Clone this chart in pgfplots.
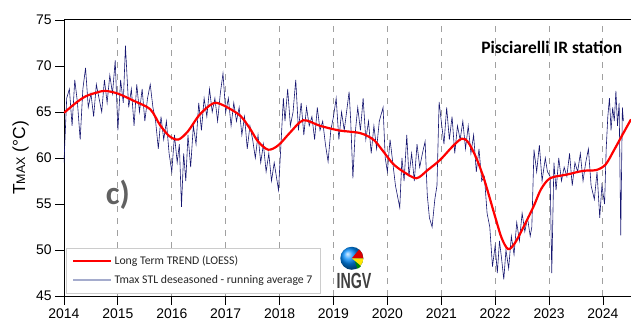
\documentclass[border=0pt]{standalone}
\usepackage{pgfplots}
\pgfplotsset{compat=1.18}
\usepackage{fontspec}
\setmainfont{Liberation Sans}
\newfontfamily\carlito{Carlito}
\definecolor{tmaxblue}{RGB}{22,22,112}
\definecolor{legblue}{RGB}{165,172,205}
\definecolor{gridgray}{RGB}{160,160,160}

\begin{document}
\begin{tikzpicture}
\begin{axis}[
    scale only axis,
    width=571.3bp, height=276bp,
    xmin=2014, xmax=2024.6,
    ymin=45, ymax=75,
    xtick={2014,2015,...,2024},
    ytick={45,50,...,75},
    /pgf/number format/1000 sep={},
    /pgf/number format/assume math mode=true,
    tick label style={font=\fontsize{14}{14}\selectfont},
    tick pos=left, tick align=outside,
    major tick length=9bp,
    tick style={black, line width=0.8pt},
    axis line style={line width=1pt},
    xmajorgrids,
    major grid style={gridgray, dash pattern=on 6bp off 6bp, line width=1pt},
    ylabel={T{\fontsize{12.5}{14}\selectfont MAX} (°C)},
    ylabel style={font=\fontsize{17.5}{18}\selectfont, at={(axis description cs:-0.076,0.5)}, anchor=center},
    legend style={at={(axis description cs:0.0035,0.011)}, anchor=south west,
        draw=gray!40, fill=white, font=\carlito\fontsize{11.8}{13}\selectfont,
        text=black!85, row sep=5bp, inner xsep=6bp, inner ysep=6bp,
        cells={anchor=west}},
    legend image code/.code={\draw[#1] (0bp,0bp) -- (38bp,0bp);},
]
% Tmax STL deseasoned, running average 7
\addplot[tmaxblue, line width=0.6pt, forget plot] coordinates {
(2014.00,59.5)(2014.05,66.5)(2014.10,67.5)(2014.15,63.5)(2014.20,68.5)(2014.25,66.0)(2014.30,62.0)(2014.35,67.5)(2014.40,69.8)(2014.45,65.5)
(2014.50,67.0)(2014.55,64.5)(2014.60,68.0)(2014.65,66.5)(2014.70,65.0)(2014.75,68.5)(2014.80,66.0)(2014.85,69.0)(2014.90,67.0)(2014.95,70.6)
(2015.00,63.0)(2015.05,68.5)(2015.10,66.0)(2015.14,72.2)(2015.20,65.5)(2015.25,67.5)(2015.30,63.5)(2015.35,68.0)(2015.40,65.0)(2015.45,67.5)
(2015.50,64.0)(2015.55,66.5)(2015.60,68.0)(2015.65,65.5)(2015.70,64.0)(2015.75,61.0)(2015.80,64.5)(2015.85,62.0)(2015.90,64.0)(2015.95,60.5)
(2016.00,58.5)(2016.05,62.5)(2016.10,59.5)(2016.14,61.5)(2016.18,54.7)(2016.22,60.5)(2016.26,57.5)(2016.30,62.5)(2016.35,59.0)(2016.40,63.5)
(2016.45,61.5)(2016.50,66.0)(2016.55,63.0)(2016.60,66.5)(2016.65,64.5)(2016.70,67.5)(2016.75,65.0)(2016.80,66.5)(2016.85,64.0)(2016.90,67.0)(2016.95,69.2)
(2017.00,65.0)(2017.05,66.5)(2017.10,63.5)(2017.15,66.0)(2017.20,64.0)(2017.25,65.5)(2017.30,62.5)(2017.35,64.5)(2017.40,61.0)(2017.45,63.5)
(2017.50,62.0)(2017.55,60.0)(2017.60,62.5)(2017.65,59.5)(2017.70,61.5)(2017.75,58.5)(2017.80,60.5)(2017.85,57.5)(2017.90,59.5)(2017.98,56.5)
(2018.03,62.0)(2018.07,66.5)(2018.10,64.0)(2018.15,67.5)(2018.20,63.5)(2018.25,65.0)(2018.30,68.5)(2018.35,63.0)(2018.40,66.0)(2018.45,62.5)
(2018.50,65.5)(2018.55,63.5)(2018.60,64.5)(2018.65,62.0)(2018.70,65.5)(2018.75,63.0)(2018.80,64.0)(2018.85,61.5)(2018.90,59.6)(2018.95,63.0)
(2019.00,64.5)(2019.05,66.5)(2019.10,62.0)(2019.15,65.0)(2019.20,63.0)(2019.29,67.2)(2019.32,64.0)(2019.36,57.8)(2019.40,62.5)(2019.45,65.5)
(2019.50,63.0)(2019.55,66.5)(2019.60,62.0)(2019.65,64.0)(2019.70,60.5)(2019.75,63.5)(2019.80,61.0)(2019.85,64.0)(2019.92,65.5)(2019.96,60.0)
(2020.00,58.5)(2020.05,62.0)(2020.10,59.5)(2020.15,57.0)(2020.23,54.6)(2020.27,60.0)(2020.31,57.5)(2020.36,62.5)(2020.40,58.0)(2020.45,60.5)
(2020.50,57.5)(2020.55,61.5)(2020.60,59.0)(2020.65,60.5)(2020.70,61.8)(2020.74,56.0)(2020.78,53.5)(2020.83,52.5)(2020.88,55.5)(2020.92,57.0)(2020.96,66.1)
(2021.00,64.0)(2021.05,61.5)(2021.10,65.5)(2021.15,62.0)(2021.20,64.5)(2021.25,60.5)(2021.30,63.5)(2021.35,62.0)(2021.40,64.0)(2021.45,61.0)
(2021.50,63.5)(2021.55,60.5)(2021.60,62.5)(2021.65,58.5)(2021.70,61.0)(2021.75,57.5)(2021.80,58.0)(2021.85,54.0)(2021.90,52.5)(2021.95,48.2)
(2022.00,50.5)(2022.04,47.5)(2022.08,51.0)(2022.12,49.0)(2022.16,46.8)(2022.20,50.0)(2022.25,48.0)(2022.30,51.5)(2022.35,49.5)(2022.40,53.0)
(2022.45,51.0)(2022.50,54.0)(2022.55,52.0)(2022.60,53.5)(2022.65,51.5)(2022.68,52.5)(2022.72,60.9)(2022.77,58.5)(2022.82,61.4)(2022.87,57.5)(2022.93,60.0)(2022.97,58.5)
(2023.02,58.0)(2023.05,47.5)(2023.09,59.5)(2023.13,56.5)(2023.18,60.0)(2023.23,57.5)(2023.28,59.0)(2023.33,58.0)(2023.38,60.5)(2023.43,57.0)
(2023.48,59.5)(2023.53,58.5)(2023.58,60.5)(2023.63,57.5)(2023.68,59.5)(2023.73,61.0)(2023.78,57.0)(2023.84,55.5)(2023.89,58.5)(2023.94,53.5)(2023.98,57.0)
(2024.03,55.0)(2024.06,61.0)(2024.09,64.5)(2024.12,66.5)(2024.15,63.0)(2024.18,65.5)(2024.21,64.0)(2024.24,67.3)(2024.27,63.5)(2024.30,66.0)
(2024.33,51.6)(2024.36,65.5)(2024.38,64.0)
};
% long term trend (LOESS)
\addplot[red, line width=2.2pt, smooth, forget plot] coordinates {
(2014.0,64.9)(2014.2,65.9)(2014.4,66.7)(2014.6,67.1)(2014.76,67.3)(2015.0,67.0)(2015.3,66.2)(2015.6,65.3)
(2015.78,63.6)(2015.95,62.4)(2016.12,62.0)(2016.3,62.9)(2016.5,64.6)(2016.7,65.7)(2016.82,66.0)(2017.0,65.6)
(2017.27,64.6)(2017.45,63.2)(2017.6,61.8)(2017.79,60.9)(2017.98,61.4)(2018.2,62.8)(2018.44,64.1)(2018.75,63.5)
(2019.1,63.0)(2019.5,62.7)(2019.74,62.0)(2019.9,60.9)(2020.1,59.4)(2020.3,58.5)(2020.54,57.8)(2020.75,58.7)
(2020.98,59.8)(2021.2,61.2)(2021.38,62.1)(2021.5,61.7)(2021.65,60.0)(2021.8,57.6)(2022.0,53.6)(2022.12,51.3)
(2022.24,50.1)(2022.36,50.7)(2022.5,52.2)(2022.71,54.7)(2022.85,56.6)(2023.02,57.8)(2023.33,58.2)(2023.63,58.6)
(2023.88,58.7)(2024.05,59.3)(2024.2,60.8)(2024.35,62.4)(2024.52,64.2)
};
\addlegendimage{red, line width=2.4pt}
\addlegendentry{Long Term TREND (LOESS)}
\addlegendimage{legblue, line width=1.2pt}
\addlegendentry{Tmax STL deseasoned - running average 7}

\node[anchor=east, font=\carlito\bfseries\fontsize{17.5}{19}\selectfont]
    at (axis description cs:0.983,0.899) {Pisciarelli IR station};
\node[font=\carlito\bfseries\fontsize{33}{33}\selectfont, text=black!62]
    at (axis cs:2015.0,56.0) {c)};
% INGV logo
\node[circle, minimum size=23bp, inner sep=0pt, ball color=cyan!55!blue] (globe) at (axis cs:2019.34,49.1) {};
\fill[red!85!black] (globe.center) -- ++(0:11.5bp) arc (0:50:11.5bp) -- cycle;
\fill[yellow!90!orange] (globe.center) -- ++(-40:11.5bp) arc (-40:0:11.5bp) -- cycle;
\fill[green!55!black] (globe.center) ++(3bp,-3bp) -- ++(-70:8bp) arc (-70:-40:8bp) -- cycle;
\node[font=\bfseries\fontsize{22}{22}\selectfont, text=black!75, xscale=0.65]
    at (axis cs:2019.38,46.6) {INGV};
\end{axis}
\pgfresetboundingbox
\path[use as bounding box] (current axis.south west) ++(-64bp,-26bp) rectangle ++(631bp,322bp);
\end{tikzpicture}
\end{document}
